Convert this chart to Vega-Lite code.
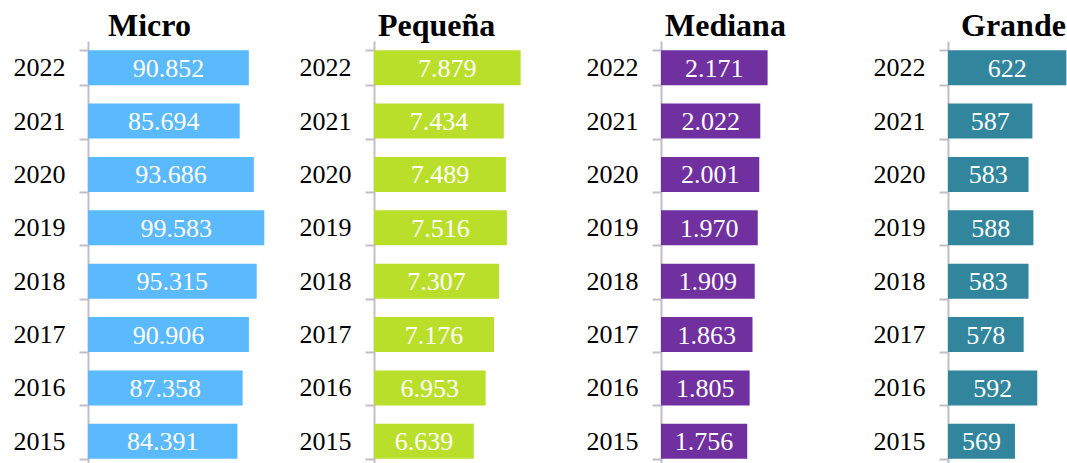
{
  "$schema": "https://vega.github.io/schema/vega-lite/v6.json",
  "padding": {"left": 13, "top": 10, "right": 0, "bottom": 0},
  "spacing": 20,
  "datasets": {
    "empresas": [
      {"year": "2022", "size": "Micro", "value": 90852},
      {"year": "2021", "size": "Micro", "value": 85694},
      {"year": "2020", "size": "Micro", "value": 93686},
      {"year": "2019", "size": "Micro", "value": 99583},
      {"year": "2018", "size": "Micro", "value": 95315},
      {"year": "2017", "size": "Micro", "value": 90906},
      {"year": "2016", "size": "Micro", "value": 87358},
      {"year": "2015", "size": "Micro", "value": 84391},
      {"year": "2022", "size": "Pequeña", "value": 7879},
      {"year": "2021", "size": "Pequeña", "value": 7434},
      {"year": "2020", "size": "Pequeña", "value": 7489},
      {"year": "2019", "size": "Pequeña", "value": 7516},
      {"year": "2018", "size": "Pequeña", "value": 7307},
      {"year": "2017", "size": "Pequeña", "value": 7176},
      {"year": "2016", "size": "Pequeña", "value": 6953},
      {"year": "2015", "size": "Pequeña", "value": 6639},
      {"year": "2022", "size": "Mediana", "value": 2171},
      {"year": "2021", "size": "Mediana", "value": 2022},
      {"year": "2020", "size": "Mediana", "value": 2001},
      {"year": "2019", "size": "Mediana", "value": 1970},
      {"year": "2018", "size": "Mediana", "value": 1909},
      {"year": "2017", "size": "Mediana", "value": 1863},
      {"year": "2016", "size": "Mediana", "value": 1805},
      {"year": "2015", "size": "Mediana", "value": 1756},
      {"year": "2022", "size": "Grande", "value": 622},
      {"year": "2021", "size": "Grande", "value": 587},
      {"year": "2020", "size": "Grande", "value": 583},
      {"year": "2019", "size": "Grande", "value": 588},
      {"year": "2018", "size": "Grande", "value": 583},
      {"year": "2017", "size": "Grande", "value": 578},
      {"year": "2016", "size": "Grande", "value": 592},
      {"year": "2015", "size": "Grande", "value": 569}
    ]
  },
  "data": {"name": "empresas"},
  "hconcat": [
    {
      "width": 191, "height": 427,
      "title": {"text": "Micro", "dx": 20},
      "transform": [{"filter": "datum.size === 'Micro'"}],
      "layer": [
        {"mark": {"type": "bar", "color": "#5bb9fe"},
         "encoding": {
           "y": {"field": "year", "type": "nominal", "sort": "descending", "scale": {"paddingInner": 0.345, "paddingOuter": 0.1725}, "axis": {"title": null, "tickBand": "extent"}},
           "x": {"field": "value", "type": "quantitative", "scale": {"domain": [0, 107900]}, "axis": null},
           "x2": {"datum": 0}}},
        {"mark": {"type": "text", "color": "white", "fontSize": 26, "font": "Liberation Serif", "baseline": "middle", "align": "center", "dy": 1},
         "encoding": {
           "y": {"field": "year", "type": "nominal", "sort": "descending"},
           "x": {"field": "value", "type": "quantitative", "scale": {"domain": [0, 107900], "range": [0, 95.5]}, "axis": null},
           "text": {"field": "value", "type": "quantitative", "format": ","}}}
      ],
      "resolve": {"scale": {"x": "independent"}}
    },
    {
      "width": 192, "height": 427,
      "title": {"text": "Pequeña", "dx": 4},
      "transform": [{"filter": "datum.size === 'Pequeña'"}],
      "layer": [
        {"mark": {"type": "bar", "color": "#b9df2a"},
         "encoding": {
           "y": {"field": "year", "type": "nominal", "sort": "descending", "scale": {"paddingInner": 0.345, "paddingOuter": 0.1725}, "axis": {"title": null, "tickBand": "extent"}},
           "x": {"field": "value", "type": "quantitative", "scale": {"domain": [4000, 9079], "zero": false}, "axis": null},
           "x2": {"datum": 4000}}},
        {"mark": {"type": "text", "color": "white", "fontSize": 26, "font": "Liberation Serif", "baseline": "middle", "align": "center", "dy": 1},
         "encoding": {
           "y": {"field": "year", "type": "nominal", "sort": "descending"},
           "x": {"field": "value", "type": "quantitative", "scale": {"domain": [4000, 9079], "zero": false, "range": [0, 96]}, "axis": null},
           "text": {"field": "value", "type": "quantitative", "format": ","}}}
      ],
      "resolve": {"scale": {"x": "independent"}}
    },
    {
      "width": 192, "height": 427,
      "title": {"text": "Mediana", "dx": 4},
      "transform": [{"filter": "datum.size === 'Mediana'"}],
      "layer": [
        {"mark": {"type": "bar", "color": "#7030a0"},
         "encoding": {
           "y": {"field": "year", "type": "nominal", "sort": "descending", "scale": {"paddingInner": 0.345, "paddingOuter": 0.1725}, "axis": {"title": null, "tickBand": "extent"}},
           "x": {"field": "value", "type": "quantitative", "scale": {"domain": [0, 3910]}, "axis": null},
           "x2": {"datum": 0}}},
        {"mark": {"type": "text", "color": "white", "fontSize": 26, "font": "Liberation Serif", "baseline": "middle", "align": "center", "dy": 1},
         "encoding": {
           "y": {"field": "year", "type": "nominal", "sort": "descending"},
           "x": {"field": "value", "type": "quantitative", "scale": {"domain": [0, 3910], "range": [0, 96]}, "axis": null},
           "text": {"field": "value", "type": "quantitative", "format": ","}}}
      ],
      "resolve": {"scale": {"x": "independent"}}
    },
    {
      "width": 124, "height": 427,
      "title": {"text": "Grande", "dx": 13},
      "transform": [{"filter": "datum.size === 'Grande'"}],
      "layer": [
        {"mark": {"type": "bar", "color": "#31859c"},
         "encoding": {
           "y": {"field": "year", "type": "nominal", "sort": "descending", "scale": {"paddingInner": 0.345, "paddingOuter": 0.1725}, "axis": {"title": null, "tickBand": "extent"}},
           "x": {"field": "value", "type": "quantitative", "scale": {"domain": [500, 627.8], "zero": false}, "axis": null},
           "x2": {"datum": 500}}},
        {"mark": {"type": "text", "color": "white", "fontSize": 26, "font": "Liberation Serif", "baseline": "middle", "align": "center", "dy": 1},
         "encoding": {
           "y": {"field": "year", "type": "nominal", "sort": "descending"},
           "x": {"field": "value", "type": "quantitative", "scale": {"domain": [500, 627.8], "zero": false, "range": [0, 62]}, "axis": null},
           "text": {"field": "value", "type": "quantitative", "format": ","}}}
      ],
      "resolve": {"scale": {"x": "independent"}}
    }
  ],
  "config": {
    "locale": {"number": {"decimal": ",", "thousands": ".", "grouping": [3], "currency": ["", " €"]}},
    "view": {"stroke": null},
    "title": {"font": "Liberation Serif", "fontSize": 32, "fontWeight": "bold", "color": "black", "anchor": "start", "frame": "group", "baseline": "alphabetic", "offset": -15},
    "axis": {
      "domainColor": "#c3bdcb", "domainWidth": 2,
      "tickColor": "#c3bdcb", "tickWidth": 2, "tickSize": 9,
      "labelFont": "Liberation Serif", "labelFontSize": 26, "labelColor": "black",
      "labelPadding": 14
    }
  }
}
